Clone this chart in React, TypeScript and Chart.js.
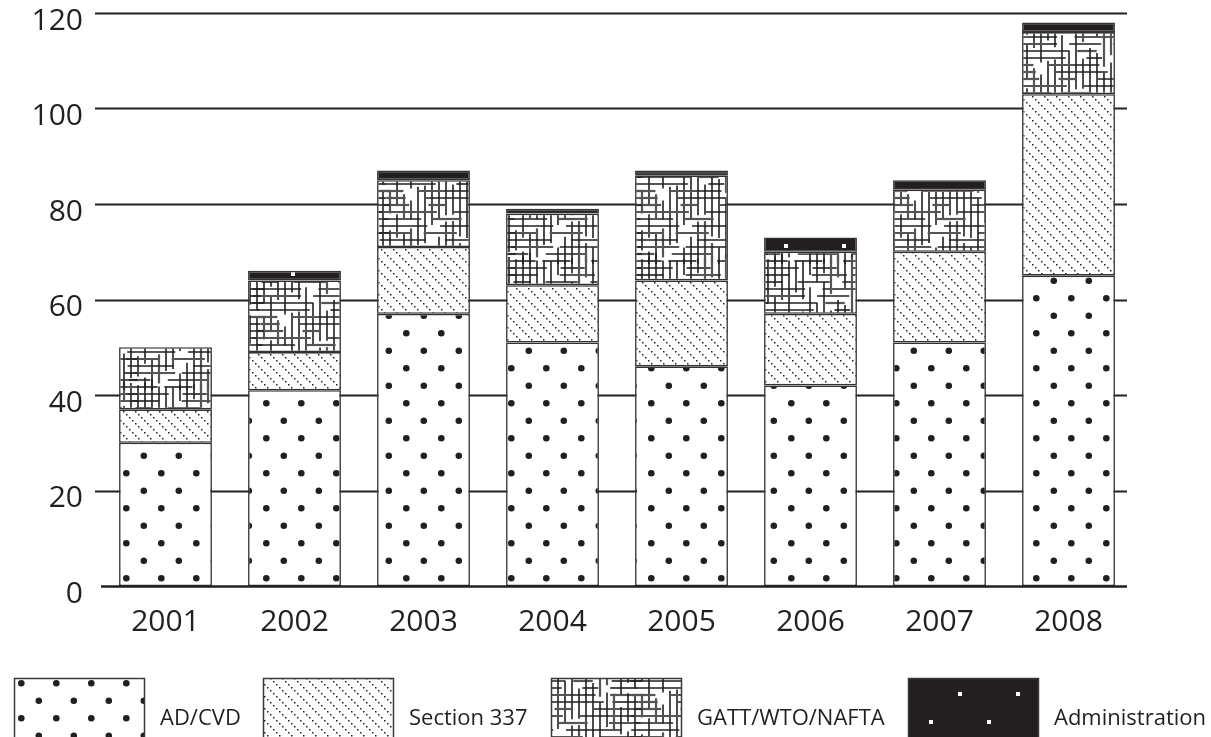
import React, { useEffect, useRef } from "react";
import { Chart, registerables } from "chart.js";

Chart.register(...registerables);

const years = ["2001", "2002", "2003", "2004", "2005", "2006", "2007", "2008"];
const adCvd = [30, 41, 57, 51, 46, 42, 51, 65];
const section337 = [7, 8, 14, 12, 18, 15, 19, 38];
const gattWtoNafta = [13, 15, 14, 15, 22, 13, 13, 13];
const administration = [0, 2, 2, 1, 1, 3, 2, 2];
const seriesNames = ["AD/CVD", "Section 337", "GATT/WTO/NAFTA", "Administration"];
const yTicks = [0, 20, 40, 60, 80, 100, 120];

const INK = "#231f20";
const FONT = "'Open Sans', 'Noto Sans', sans-serif";

function makeTile(w: number, h: number, draw: (c: CanvasRenderingContext2D) => void) {
  const cv = document.createElement("canvas");
  cv.width = w;
  cv.height = h;
  const c = cv.getContext("2d")!;
  draw(c);
  return cv;
}

function dotPattern(ctx: CanvasRenderingContext2D) {
  const S = 35;
  const tile = makeTile(S, S, (c) => {
    c.fillStyle = "#ffffff";
    c.fillRect(0, 0, S, S);
    c.fillStyle = INK;
    const pts = [
      [21.3, 18.3],
      [3.8, 0.8],
    ];
    for (const [px, py] of pts) {
      for (const dx of [-S, 0, S]) {
        for (const dy of [-S, 0, S]) {
          c.beginPath();
          c.arc(px + dx, py + dy, 3.3, 0, Math.PI * 2);
          c.fill();
        }
      }
    }
  });
  return ctx.createPattern(tile, "repeat")!;
}

function diagPattern(ctx: CanvasRenderingContext2D) {
  const S = 12;
  const tile = makeTile(S, S, (c) => {
    c.fillStyle = "#ffffff";
    c.fillRect(0, 0, S, S);
    c.fillStyle = "#222";
    for (let i = 0; i < 4; i++) {
      c.fillRect(i * 3, i * 3, 1.5, 1.5);
    }
  });
  return ctx.createPattern(tile, "repeat")!;
}

function hatchPattern(ctx: CanvasRenderingContext2D) {
  const S = 126;
  let seed = 777;
  const rnd = () => {
    seed = (seed * 1103515245 + 12345) & 0x7fffffff;
    return seed / 0x7fffffff;
  };
  const tile = makeTile(S, S, (c) => {
    c.fillStyle = "#ffffff";
    c.fillRect(0, 0, S, S);
    const seg = (x1: number, y1: number, x2: number, y2: number) => {
      const gray = rnd() < 0.25;
      c.strokeStyle = gray ? "#555" : INK;
      c.lineWidth = gray ? 2.2 : 1.6;
      for (const dx of [-S, 0, S]) {
        for (const dy of [-S, 0, S]) {
          c.beginPath();
          c.moveTo(x1 + dx, y1 + dy);
          c.lineTo(x2 + dx, y2 + dy);
          c.stroke();
        }
      }
    };
    for (let k = 0; k < S / 7; k++) {
      const p = k * 7 + 2;
      let t = rnd() * 10;
      while (t < S) {
        const len = 14 + rnd() * 50;
        seg(t, p, Math.min(t + len, S + 12), p);
        t += len + 5 + rnd() * 18;
      }
      t = rnd() * 10;
      while (t < S) {
        const len = 14 + rnd() * 50;
        seg(p + 3, t, p + 3, Math.min(t + len, S + 12));
        t += len + 5 + rnd() * 18;
      }
    }
  });
  return ctx.createPattern(tile, "repeat")!;
}

function adminPattern(ctx: CanvasRenderingContext2D) {
  const W = 58;
  const H = 56;
  const tile = makeTile(W, H, (c) => {
    c.fillStyle = INK;
    c.fillRect(0, 0, W, H);
    c.fillStyle = "#ffffff";
    c.fillRect(30, 20, 4, 4);
    c.fillRect(1, 48, 4, 4);
  });
  return ctx.createPattern(tile, "repeat")!;
}

export default function App() {
  const ref = useRef<HTMLCanvasElement | null>(null);

  useEffect(() => {
    const canvas = ref.current!;
    const ctx = canvas.getContext("2d")!;
    const fills = [dotPattern(ctx), diagPattern(ctx), hatchPattern(ctx), adminPattern(ctx)];
    const values = [adCvd, section337, gattWtoNafta, administration];

    const gridPlugin = {
      id: "gridLines",
      beforeDatasetsDraw(chart: any) {
        const c = chart.ctx;
        const y = chart.scales.y;
        const { left, right } = chart.chartArea;
        c.save();
        c.strokeStyle = INK;
        c.lineWidth = 2.2;
        for (const t of y.ticks) {
          if (t.value === 0) continue;
          const py = Math.round(y.getPixelForValue(t.value)) + 0.5;
          c.beginPath();
          c.moveTo(left - 6, py);
          c.lineTo(right - 6, py);
          c.stroke();
        }
        c.restore();
      },
      afterDatasetsDraw(chart: any) {
        const c = chart.ctx;
        const y = chart.scales.y;
        const { left, right } = chart.chartArea;
        const py = Math.round(y.getPixelForValue(0)) + 0.5;
        c.save();
        c.strokeStyle = INK;
        c.lineWidth = 2.5;
        c.beginPath();
        c.moveTo(left, py);
        c.lineTo(right - 6, py);
        c.stroke();
        c.restore();
      },
    };

    const legendBoxX = [14, 263, 551, 908];
    const legendPlugin = {
      id: "patternLegend",
      afterDraw(chart: any) {
        const c = chart.ctx;
        c.save();
        for (let i = 0; i < seriesNames.length; i++) {
          const x = legendBoxX[i];
          const yTop = 678;
          const w = 131;
          const h = 62;
          c.fillStyle = fills[i];
          c.fillRect(x, yTop, w, h);
          c.strokeStyle = "#3a3a3a";
          c.lineWidth = 1.5;
          c.strokeRect(x + 0.5, yTop + 0.5, w - 1, h);
          c.fillStyle = INK;
          c.font = `22px ${FONT}`;
          c.textAlign = "left";
          c.textBaseline = "middle";
          c.fillText(seriesNames[i], x + w + 15, 719);
        }
        c.restore();
      },
    };

    const chart = new Chart(ctx, {
      type: "bar",
      data: {
        labels: years,
        datasets: values.map((v, i) => ({
          label: seriesNames[i],
          data: v,
          backgroundColor: fills[i],
          borderColor: "#333",
          borderWidth: (c: any) => (c.raw === 0 ? 0 : 1.6),
          borderSkipped: false,
          barPercentage: 0.72,
          categoryPercentage: 1,
        })),
      },
      options: {
        animation: false,
        responsive: false,
        devicePixelRatio: 1,
        layout: { padding: { top: 13, right: 78, bottom: 0, left: 0 } },
        plugins: {
          legend: { display: false },
          tooltip: { enabled: false },
        },
        scales: {
          x: {
            stacked: true,
            grid: { display: false, drawTicks: false },
            border: { display: false },
            ticks: {
              color: INK,
              font: { family: FONT, size: 30 },
              padding: 18,
            },
            afterFit: (s: any) => {
              s.height = 151;
              s.paddingLeft = 0;
              s.paddingRight = 0;
            },
          },
          y: {
            stacked: true,
            min: 0,
            max: 120,
            grid: { display: false, drawTicks: false },
            border: { display: false },
            afterBuildTicks: (s: any) => {
              s.ticks = yTicks.map((v) => ({ value: v }));
            },
            ticks: {
              color: INK,
              font: { family: FONT, size: 30 },
              padding: 18,
              labelOffset: 8,
            },
            afterFit: (s: any) => {
              s.width = 101;
              s.paddingTop = 0;
              s.paddingBottom = 0;
            },
          },
        },
      },
      plugins: [gridPlugin, legendPlugin],
    });
    return () => chart.destroy();
  }, []);

  return (
    <div style={{ position: "fixed", left: 0, top: 0, width: 1211, height: 737, background: "#fff" }}>
      <canvas ref={ref} width={1211} height={737} style={{ display: "block" }} />
    </div>
  );
}
